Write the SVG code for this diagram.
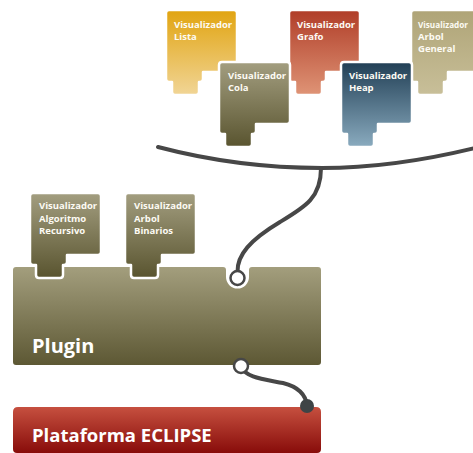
<svg xmlns="http://www.w3.org/2000/svg" xmlns:xlink="http://www.w3.org/1999/xlink" width="473" height="453" viewBox="0 0 473 453">
<style>
.tile{stroke:#ffffff;stroke-width:2.5;stroke-linejoin:round}
.t{font-family:"Open Sans","DejaVu Sans",sans-serif;font-weight:bold;font-size:9.5px;fill:#fdfbf4}
.big{font-family:"Open Sans","DejaVu Sans",sans-serif;font-weight:bold;fill:#ffffff}
.wire{fill:none;stroke:#474747;stroke-width:4;stroke-linecap:round}
</style>
<defs>
<path id="tileShape" d="M3,0 H68 Q71,0 71,3 V59 Q71,62 68,62 H37 V69 Q37,72 34,72 H33 V82 Q33,85 30,85 H9 Q6,85 6,82 V72 H3 Q0,72 0,69 V3 Q0,0 3,0 Z"/>
<linearGradient id="gLista" x1="0" y1="0" x2="0" y2="1"><stop offset="0" stop-color="#e1a410"/><stop offset="1" stop-color="#f1d596"/></linearGradient>
<linearGradient id="gGrafo" x1="0" y1="0" x2="0" y2="1"><stop offset="0" stop-color="#b03d28"/><stop offset="1" stop-color="#df9476"/></linearGradient>
<linearGradient id="gHeap" x1="0" y1="0" x2="0" y2="1"><stop offset="0" stop-color="#213f55"/><stop offset="1" stop-color="#8aabbf"/></linearGradient>
<linearGradient id="gGen" x1="0" y1="0" x2="0" y2="1"><stop offset="0" stop-color="#afa477"/><stop offset="1" stop-color="#c8bf99"/></linearGradient>
<linearGradient id="gOlive" x1="0" y1="0" x2="0" y2="1"><stop offset="0" stop-color="#a39e80"/><stop offset="1" stop-color="#59542f"/></linearGradient>
<linearGradient id="gPlugin" x1="0" y1="0" x2="0" y2="1"><stop offset="0" stop-color="#a39e7d"/><stop offset="1" stop-color="#5d5834"/></linearGradient>
<linearGradient id="gEclipse" x1="0" y1="0" x2="0" y2="1"><stop offset="0" stop-color="#c6503f"/><stop offset="1" stop-color="#880c0a"/></linearGradient>
</defs>

<g id="lista">
<use xlink:href="#tileShape" class="tile" x="166" y="10" fill="url(#gLista)"/>
<text class="t" x="174" y="28">Visualizador</text><text class="t" x="174" y="40">Lista</text>
</g>
<g id="grafo">
<use xlink:href="#tileShape" class="tile" x="289" y="10" fill="url(#gGrafo)"/>
<text class="t" x="297" y="28">Visualizador</text><text class="t" x="297" y="40">Grafo</text>
</g>
<g id="arbol-general">
<use xlink:href="#tileShape" class="tile" x="411" y="10" fill="url(#gGen)"/>
<text class="t" x="418" y="28" textLength="50" lengthAdjust="spacingAndGlyphs">Visualizador</text><text class="t" x="418" y="40">Arbol</text><text class="t" x="418" y="52">General</text>
</g>
<g id="cola">
<use xlink:href="#tileShape" class="tile" x="219" y="62" fill="url(#gOlive)"/>
<text class="t" x="228" y="79">Visualizador</text><text class="t" x="228" y="91">Cola</text>
</g>
<g id="heap">
<use xlink:href="#tileShape" class="tile" x="341" y="62" fill="url(#gHeap)"/>
<text class="t" x="349" y="79">Visualizador</text><text class="t" x="349" y="91">Heap</text>
</g>

<g id="plugin">
<path fill="url(#gPlugin)" d="M16,267 H223 Q226,267 226,270 V277 A11.5,11.5 0 0 0 249,277 V270 Q249,267 252,267 H318 Q321,267 321,270 V362 Q321,365 318,365 H16 Q13,365 13,362 V270 Q13,267 16,267 Z"/>
<text class="big" x="32" y="353" font-size="20">Plugin</text>
</g>
<g id="algoritmo-recursivo">
<use xlink:href="#tileShape" class="tile" x="30" y="193" fill="url(#gOlive)"/>
<text class="t" x="39" y="209">Visualizador</text><text class="t" x="39" y="221.5">Algoritmo</text><text class="t" x="39" y="234">Recursivo</text>
</g>
<g id="arbol-binarios">
<use xlink:href="#tileShape" class="tile" x="125" y="193" fill="url(#gOlive)"/>
<text class="t" x="134" y="209">Visualizador</text><text class="t" x="134" y="221.5">Arbol</text><text class="t" x="134" y="234">Binarios</text>
</g>
<g id="eclipse">
<path fill="url(#gEclipse)" d="M18,407 H316 Q321,407 321,412 V449 Q321,453 317,453 H17 Q13,453 13,449 V412 Q13,407 18,407 Z"/>
<text class="big" x="32" y="442" font-size="18.5">Plataforma ECLIPSE</text>
</g>

<g id="connectors">
<path class="wire" d="M158,147 C215,162 270,168 322,168 C380,168 430,159 475,148"/>
<path class="wire" d="M321,168 C321,198 305,207 280,222 C250,240 237,255 237.5,272"/>
<path class="wire" d="M241,366 C246,378 262,379 283,383 C299,387 306,395 307,406"/>
<circle cx="237.5" cy="278" r="7" fill="#ffffff" stroke="#474747" stroke-width="2.5"/>
<circle cx="241" cy="366" r="7" fill="#ffffff" stroke="#474747" stroke-width="2.5"/>
<circle cx="307" cy="406" r="7" fill="#3e4446"/>
</g>
</svg>
